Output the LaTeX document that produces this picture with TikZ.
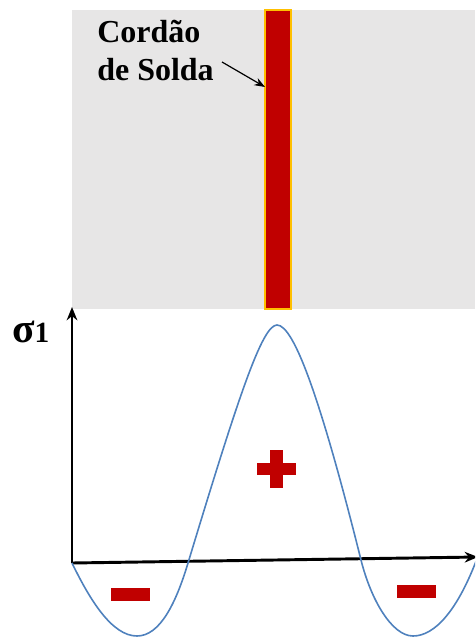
\documentclass[tikz,border=0pt]{standalone}
\usepackage{fontspec}
\setmainfont{Liberation Serif}
\usetikzlibrary{arrows.meta,positioning,calc}
\definecolor{plateGray}{HTML}{E7E6E6}
\definecolor{weldRed}{HTML}{C00000}
\definecolor{weldEdge}{HTML}{FFC000}
\definecolor{curveBlue}{HTML}{4F81BD}

\begin{document}
\begin{tikzpicture}[x=0.75pt,y=-0.75pt]
\useasboundingbox (0,0) rectangle (475,638);
\clip (0,0) rectangle (475,638);
\fill[plateGray] (72,10) rectangle (475,309);
\filldraw[fill=weldRed,draw=weldEdge,line width=1pt] (265,10) rectangle (291,309);
\coordinate (tip) at (265,87);
\node[anchor=base west,align=left,inner sep=0pt,font=\fontsize{24}{29}\selectfont\bfseries] (label) at (97,81) {Cordão\\de Solda};
\coordinate (tail) at (222,62);
\draw[-{Stealth[length=8pt,width=6pt]},line width=0.9pt] (tail) -- (tip);
% eixos
\coordinate (o) at (72,563);
\draw[-{Stealth[length=10pt,width=8pt]},line width=2.2pt] (o) -- (72,307);
\draw[-{Stealth[length=10pt,width=8pt]},line width=2.2pt] (o) -- (478,557);
\node[anchor=base west,inner sep=0pt] (sigma) at (12,342) {{\fontsize{31}{31}\selectfont\bfseries σ}{\fontsize{22}{22}\selectfont\bfseries 1}};
\draw[curveBlue,line width=1.2pt] (o) .. controls (90,600) and (112,636) .. (137,636)
  .. controls (160,636) and (176,603) .. (188,563)
  .. controls (238,398) and (262,325) .. (277,325)
  .. controls (294,325) and (321,400) .. (361,560)
  .. controls (371,600) and (392,636) .. (413,636)
  .. controls (435,636) and (458,610) .. (478,556);
% sinais
\fill[weldRed] (257,463) rectangle (296,475);
\fill[weldRed] (270,450) rectangle (283,488);
\foreach \x/\y in {111/588,397/585}{\fill[weldRed] (\x,\y) rectangle +(39,13);}
\end{tikzpicture}
\end{document}
